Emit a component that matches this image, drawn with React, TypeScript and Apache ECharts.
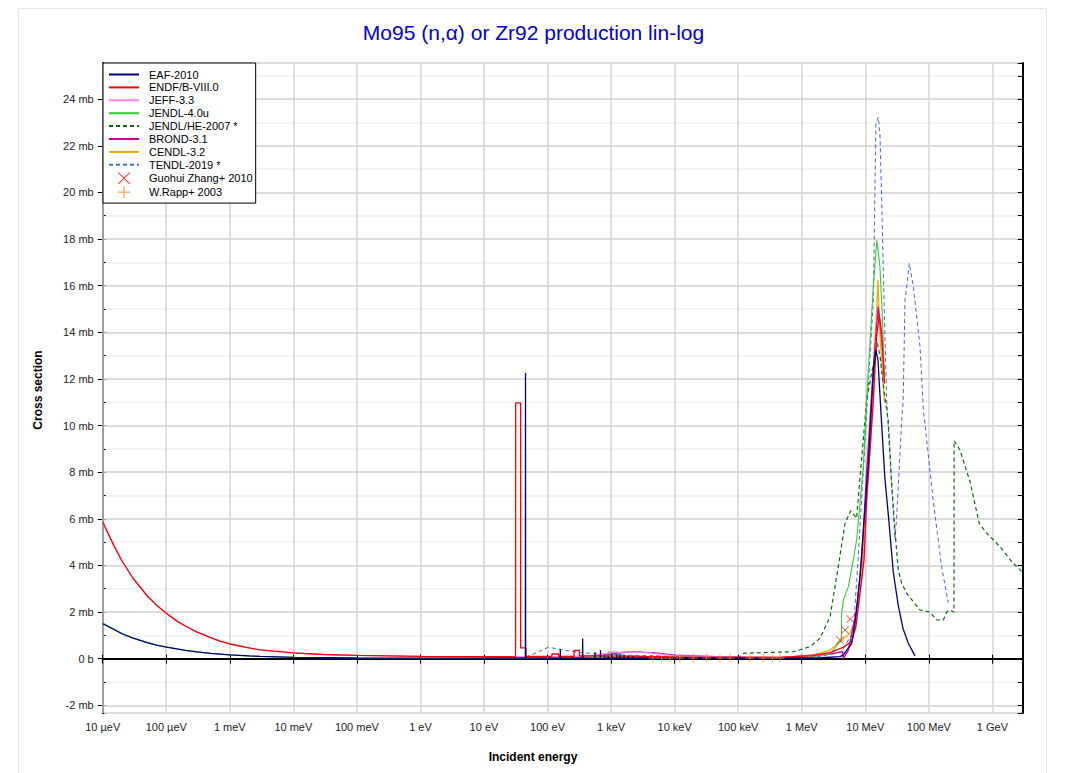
import React, { useEffect, useRef } from 'react';
import * as echarts from 'echarts';

type Pt = [number, number];

// ---------- axis ticks ----------
const xTickLabels = ['10 µeV', '100 µeV', '1 meV', '10 meV', '100 meV', '1 eV', '10 eV', '100 eV', '1 keV', '10 keV', '100 keV', '1 MeV', '10 MeV', '100 MeV', '1 GeV'];
const xMin = 1e-5;
const xMax = 3e9;
const yMin = -2.33;
const yMax = 25.55;

// ---------- evaluated data (energy eV, cross section mb) ----------
const eaf2010: Pt[] = [
  [1e-5, 1.5], [1.5e-5, 1.25], [2e-5, 1.07], [3e-5, 0.88], [5e-5, 0.69], [7e-5, 0.58], [1e-4, 0.5], [2e-4, 0.36],
  [3e-4, 0.29], [5e-4, 0.23], [1e-3, 0.16], [2e-3, 0.12], [3e-3, 0.1], [1e-2, 0.06],
  [0.1, 0.03], [1, 0.02], [10, 0.02], [44.8, 0.02], [45, 12.26], [45.2, 0.02], [158.5, 0.02], [159, 0.4], [159.5, 0.02],
  [355, 0.02], [357, 0.87], [359, 0.02], [556, 0.02], [558, 0.27], [560, 0.02], [679, 0.02], [681, 0.37], [683, 0.02],
  [785, 0.03], [787, 0.15], [789, 0.03], [898, 0.03], [900, 0.12], [902, 0.03], [1030, 0.03], [1032, 0.22], [1034, 0.03],
  [1230, 0.03], [1233, 0.18], [1236, 0.03], [1378, 0.03], [1380, 0.2], [1382, 0.03], [1600, 0.03], [1604, 0.15], [1608, 0.03],
  [1840, 0.03], [1844, 0.12], [1848, 0.03], [2200, 0.03], [2205, 0.12], [2210, 0.03], [5e3, 0.04], [1e4, 0.04], [1e5, 0.03],
  [4.55e5, 0.02], [2e6, 0.04], [4.0e6, 0.09], [4.51e6, 0.16], [6.11e6, 0.66], [6.88e6, 1.52], [8.25e6, 3.52], [9.31e6, 5.5],
  [1.11e7, 8.24], [1.34e7, 12.3], [1.47e7, 13.24], [1.585e7, 12.8], [1.77e7, 10.5], [2.04e7, 7.7], [2.3e7, 6.2],
  [2.76e7, 3.7], [3.3e7, 2.3], [3.92e7, 1.3], [4.75e7, 0.66], [6.05e7, 0.12],
];

const endfb80: Pt[] = [
  [1e-5, 5.86], [1.5e-5, 4.85], [2e-5, 4.2], [3e-5, 3.45], [5e-5, 2.7], [7e-5, 2.3], [1e-4, 1.95], [1.5e-4, 1.6],
  [2e-4, 1.4], [3e-4, 1.15], [5e-4, 0.9], [7e-4, 0.75], [1e-3, 0.63], [2e-3, 0.46], [3e-3, 0.38], [5e-3, 0.32],
  [1e-2, 0.25], [3e-2, 0.18], [0.1, 0.14], [1, 0.1], [10, 0.09], [31.4, 0.08], [31.5, 10.97], [37.7, 10.97], [37.8, 0.46],
  [45.8, 0.46], [45.9, 0.1], [117, 0.1], [117.1, 0.2], [150, 0.2], [150.1, 0.1], [261, 0.1], [261.1, 0.35], [316, 0.35],
  [316.1, 0.12], [1e3, 0.12], [3e3, 0.1], [1e4, 0.08], [1e5, 0.07], [4.55e5, 0.06], [1.52e6, 0.13], [2.79e6, 0.26],
  [4.5e6, 0.49], [6.1e6, 0.73], [7.1e6, 1.37], [8.25e6, 2.8], [9.55e6, 4.23], [1.05e7, 6.8], [1.34e7, 11.1], [1.5e7, 13.8],
  [1.66e7, 14.74], [1.81e7, 13.96], [2e7, 11.8],
];

const jeff33: Pt[] = [
  [1e-5, 5.86], [1.5e-5, 4.85], [2e-5, 4.2], [3e-5, 3.45], [5e-5, 2.7], [7e-5, 2.3], [1e-4, 1.95], [1.5e-4, 1.6],
  [2e-4, 1.4], [3e-4, 1.15], [5e-4, 0.9], [7e-4, 0.75], [1e-3, 0.63], [2e-3, 0.46], [3e-3, 0.38], [5e-3, 0.32],
  [1e-2, 0.25], [3e-2, 0.18], [0.1, 0.14], [1, 0.1], [10, 0.09], [100, 0.08], [500, 0.12], [1e3, 0.25], [2e3, 0.3],
  [4e3, 0.25], [1e4, 0.12], [1e5, 0.07], [4.55e5, 0.06], [1.52e6, 0.13], [2.79e6, 0.26], [4.5e6, 0.49], [6.1e6, 0.73],
  [7.1e6, 1.37], [8.25e6, 2.8], [9.55e6, 4.23], [1.05e7, 6.8], [1.34e7, 11.1], [1.5e7, 13.8], [1.66e7, 14.74],
  [1.81e7, 13.96], [2e7, 11.8],
];

const jendl40u: Pt[] = [
  [1e-5, 1.53], [1.5e-5, 1.27], [2e-5, 1.09], [3e-5, 0.89], [5e-5, 0.7], [7e-5, 0.59], [1e-4, 0.51], [2e-4, 0.36],
  [3e-4, 0.29], [5e-4, 0.23], [1e-3, 0.16], [2e-3, 0.12], [3e-3, 0.1], [1e-2, 0.06],
  [0.1, 0.03], [1, 0.02], [10, 0.02], [100, 0.03], [500, 0.08], [890, 0.1], [900, 0.28], [1280, 0.28], [1290, 0.12],
  [3e3, 0.1], [1e4, 0.08], [1e5, 0.04], [4.55e5, 0.03], [1.52e6, 0.08], [2.79e6, 0.2], [4.0e6, 0.73], [4.2e6, 0.75],
  [4.25e6, 1.95], [4.51e6, 2.5], [5.41e6, 3.09], [6.47e6, 4.23], [7.32e6, 5.1], [9.31e6, 8.24], [1.05e7, 11.1],
  [1.34e7, 16.0], [1.52e7, 17.96], [1.7e7, 16.8], [1.85e7, 14.8], [2e7, 12.0],
];

const jendlhe2007: Pt[] = [
  [1e5, 0.0], [1.2e5, 0.23], [7.36e5, 0.3], [1.35e6, 0.51], [1.94e6, 0.88], [2.79e6, 1.8], [3.76e6, 3.95], [4.8e6, 5.8],
  [5.9e6, 6.34], [7.3e6, 6.02], [1.05e7, 11.1], [1.545e7, 13.53], [1.7e7, 13.0], [1.97e7, 11.5], [2.3e7, 10.2],
  [2.6e7, 7.5], [2.93e7, 5.5], [3.3e7, 3.8], [3.74e7, 3.23], [4.49e7, 2.8], [5.69e7, 2.45], [7.26e7, 2.09], [1.04e8, 2.0],
  [1.33e8, 1.66], [1.69e8, 1.66], [1.91e8, 2.0], [2.15e8, 2.09], [2.49e8, 2.0], [2.5e8, 9.35], [3.09e8, 8.95],
  [4.44e8, 7.6], [6.22e8, 5.8], [8.13e8, 5.38], [1.32e9, 4.8], [2.13e9, 4.09], [3e9, 3.7],
];

const brond31: Pt[] = [
  [10, 0.02], [300, 0.05], [1e3, 0.2], [2e3, 0.3], [5e3, 0.25], [1e4, 0.15], [1e5, 0.06], [4.55e5, 0.04], [2.79e6, 0.2],
  [4.4e6, 0.3], [4.5e6, 0.0], [5.41e6, 0.37], [7.32e6, 2.09], [8.77e6, 4.23], [1.05e7, 8.0], [1.34e7, 12.5],
  [1.6e7, 15.1], [1.8e7, 13.8], [2e7, 12.2],
];

const cendl32: Pt[] = [
  [10, 0.02], [100, 0.05], [1e3, 0.1], [1e4, 0.08], [1e5, 0.05], [4.55e5, 0.04], [1.52e6, 0.16], [2.79e6, 0.37],
  [4.0e6, 0.73], [5.74e6, 1.09], [7.32e6, 1.8], [8.77e6, 3.5], [1.05e7, 7.5], [1.34e7, 12.5], [1.5e7, 14.8],
  [1.585e7, 16.25], [1.65e7, 14.6], [1.8e7, 12.8], [2e7, 11.0],
];

const tendl2019: Pt[] = [
  [10, 0.02], [41, 0.02], [60, 0.2], [103, 0.49], [158, 0.4], [288, 0.27], [668, 0.2], [2e3, 0.15], [1e4, 0.1],
  [1e5, 0.05], [4.5e5, 0.04], [2e6, 0.1], [4.25e6, 0.3], [5.4e6, 0.8], [6.47e6, 1.16], [7.7e6, 4.23], [1.34e7, 15.4],
  [1.47e7, 22.97], [1.6e7, 23.23], [1.7e7, 22.5], [1.81e7, 19.7], [1.97e7, 15.4], [2.17e7, 11.1], [2.93e7, 5.1],
  [3.12e7, 6.1], [3.74e7, 10.2], [3.95e7, 11.1], [4.22e7, 15.4], [4.49e7, 15.96], [4.92e7, 16.96], [5.7e7, 15.96],
  [7.26e7, 13.4], [8.2e7, 10.7], [1.17e8, 6.8], [1.59e8, 3.95], [2.02e8, 2.4],
];

// ---------- experimental data ----------
const zhang2010: Pt[] = [[4.0e6, 0.8], [4.8e6, 1.23], [5.8e6, 1.7]];
const rapp2003: Pt[] = [
  [4.56e3, 0.03], [6.25e3, 0.03], [8.45e3, 0.03], [1.21e4, 0.03], [1.96e4, 0.03], [3.19e4, 0.03], [5.17e4, 0.03],
  [7.42e4, 0.03], [1.53e5, 0.03], [2.48e5, 0.03], [3.49e5, 0.03], [4.55e5, 0.03],
];

const lineNames = ['EAF-2010', 'ENDF/B-VIII.0', 'JEFF-3.3', 'JENDL-4.0u', 'JENDL/HE-2007 *', 'BROND-3.1', 'CENDL-3.2', 'TENDL-2019 *'];
const pointNames = ['Guohui Zhang+ 2010', 'W.Rapp+ 2003'];

const FONT = '"Liberation Sans", Arial, Helvetica, sans-serif';
const PLUS = 'path://M4.5,0H5.5V4.5H10V5.5H5.5V10H4.5V5.5H0V4.5H4.5Z';
const CROSS = 'path://M0,0.6L0.6,0L5,4.4L9.4,0L10,0.6L5.6,5L10,9.4L9.4,10L5,5.6L0.6,10L0,9.4L4.4,5Z';

function lineSeries(name: string, data: Pt[], color: string, width: number, dash?: number[]) {
  return {
    type: 'line',
    name,
    data,
    symbol: 'none',
    showSymbol: false,
    smooth: false,
    lineStyle: { color, width, type: dash ? dash : 'solid' },
    itemStyle: { color },
    emphasis: { disabled: true },
    clip: true,
  };
}

export default function App() {
  const ref = useRef<HTMLDivElement>(null);
  useEffect(() => {
    if (!ref.current) return;
    const chart = echarts.init(ref.current, null, { renderer: 'svg' });
    const labelStyle = { fontFamily: FONT, fontSize: 11, color: '#222' };
    const legendData = [
      ...lineNames.map((n) => ({ name: n, itemStyle: { opacity: 0 } })),
      ...pointNames.map((n) => ({ name: n })),
    ];
    const option: any = {
      animation: false,
      backgroundColor: '#fff',
      title: {
        text: 'Mo95 (n,α) or Zr92 production lin-log',
        left: 'center',
        top: 17,
        textStyle: { fontFamily: FONT, fontSize: 21, fontWeight: 'normal', color: '#0000dd' },
      },
      graphic: [
        { type: 'rect', z: -10, silent: true, shape: { x: 18.5, y: 8.5, width: 1028, height: 800 }, style: { fill: 'none', stroke: '#e6e6e6', lineWidth: 1 } },
        { type: 'text', x: 533, y: 757, silent: true, style: { text: 'Incident energy', fontFamily: FONT, fontSize: 12, fontWeight: 'bold', fill: '#000', align: 'center', verticalAlign: 'middle' } },
        { type: 'text', x: 38, y: 390, rotation: Math.PI / 2, silent: true, style: { text: 'Cross section', fontFamily: FONT, fontSize: 12, fontWeight: 'bold', fill: '#000', align: 'center', verticalAlign: 'middle' } },
      ],
      grid: { left: 102.7, right: 44.3, top: 63, bottom: 60, show: true, backgroundColor: '#fff', borderWidth: 0, containLabel: false },
      legend: {
        data: legendData,
        orient: 'vertical',
        left: 103,
        top: 63,
        padding: [6, 3, 5, 5],
        itemWidth: 30,
        itemHeight: 12,
        itemGap: 1.9,
        backgroundColor: '#fff',
        borderColor: '#000',
        borderWidth: 1,
        borderRadius: 0,
        selectedMode: false,
        lineStyle: { width: 2 },
        textStyle: { fontFamily: FONT, fontSize: 11, color: '#000', padding: [0, 0, 0, 5] },
        z: 10,
      },
      xAxis: [
        {
          type: 'log', logBase: 10, min: xMin, max: xMax, interval: 1, position: 'bottom', z: 3,
          axisLine: { show: true, lineStyle: { color: '#000', width: 2 } },
          axisTick: { show: true, inside: false, length: 5, lineStyle: { color: '#000', width: 1 } },
          axisLabel: {
            ...labelStyle, margin: 8, showMaxLabel: false, showMinLabel: true,
            formatter: (v: number) => {
              const e = Math.log10(v);
              const r = Math.round(e);
              if (Math.abs(e - r) > 1e-6) return '';
              return xTickLabels[r + 5] ?? '';
            },
          },
          splitLine: { show: true, lineStyle: { color: '#d4d4d4', width: 1.5 } },
          minorTick: { show: false },
        },
        {
          type: 'log', logBase: 10, min: xMin, max: xMax, position: 'top', z: 3,
          axisLine: { show: true, lineStyle: { color: '#000', width: 2 } },
          axisTick: { show: false }, axisLabel: { show: false }, splitLine: { show: false },
        },
        {
          type: 'log', logBase: 10, min: xMin, max: xMax, interval: 1, position: 'bottom', z: 3,
          axisLine: { show: false },
          axisTick: { show: true, inside: true, length: 4, lineStyle: { color: '#000', width: 1 } },
          axisLabel: { show: false }, splitLine: { show: false },
        },
      ],
      yAxis: [
        {
          type: 'value', min: yMin, max: yMax, splitNumber: 14, position: 'left', z: 2,
          axisLine: { show: true, lineStyle: { color: '#000', width: 2 } },
          axisTick: { show: true, inside: false, length: 5, lineStyle: { color: '#000', width: 1 } },
          axisLabel: {
            ...labelStyle, margin: 9, showMinLabel: false, showMaxLabel: false,
            formatter: (v: number) => (Math.abs(v) < 1e-9 ? '0 b' : `${Math.round(v)} mb`),
          },
          splitLine: { show: true, lineStyle: { color: '#d4d4d4', width: 1.5 } },
        },
        {
          type: 'value', min: yMin, max: yMax, splitNumber: 28, position: 'left', z: 1,
          axisLine: { show: false },
          axisTick: { show: true, inside: true, length: 3, lineStyle: { color: '#000', width: 1 } },
          axisLabel: { show: false },
          splitLine: { show: true, lineStyle: { color: '#f0f0f0', width: 1.5 } },
        },
        {
          type: 'value', min: yMin, max: yMax, splitNumber: 28, position: 'right', z: 4,
          axisLine: { show: true, lineStyle: { color: '#000', width: 2 } },
          axisTick: { show: true, inside: true, length: 5, lineStyle: { color: '#000', width: 1 } },
          axisLabel: { show: false }, splitLine: { show: false },
        },
      ],
      series: [
        lineSeries('TENDL-2019 *', tendl2019, '#4169e1', 1, [4, 3]),
        lineSeries('CENDL-3.2', cendl32, '#ffa500', 1.3),
        lineSeries('BROND-3.1', brond31, '#cc0099', 1.3),
        lineSeries('JENDL/HE-2007 *', jendlhe2007, '#0b6b0b', 1.2, [4, 3]),
        lineSeries('JENDL-4.0u', jendl40u, '#33cc33', 1.1),
        lineSeries('JEFF-3.3', jeff33, '#ff80ff', 1.1),
        lineSeries('ENDF/B-VIII.0', endfb80, '#ff0000', 1.3),
        lineSeries('EAF-2010', eaf2010, '#000080', 1.3),
        {
          type: 'scatter', name: 'Guohui Zhang+ 2010', data: zhang2010, symbol: CROSS, symbolSize: 8,
          itemStyle: { color: '#ff0000' }, emphasis: { disabled: true }, z: 5,
        },
        {
          type: 'scatter', name: 'W.Rapp+ 2003', data: rapp2003, symbol: PLUS, symbolSize: 9,
          itemStyle: { color: '#ff8c1a' }, emphasis: { disabled: true }, z: 5,
        },
      ],
    };
    chart.setOption(option);
    return () => chart.dispose();
  }, []);
  return <div ref={ref} style={{ position: 'absolute', left: 0, top: 0, width: 1067, height: 773 }} />;
}
